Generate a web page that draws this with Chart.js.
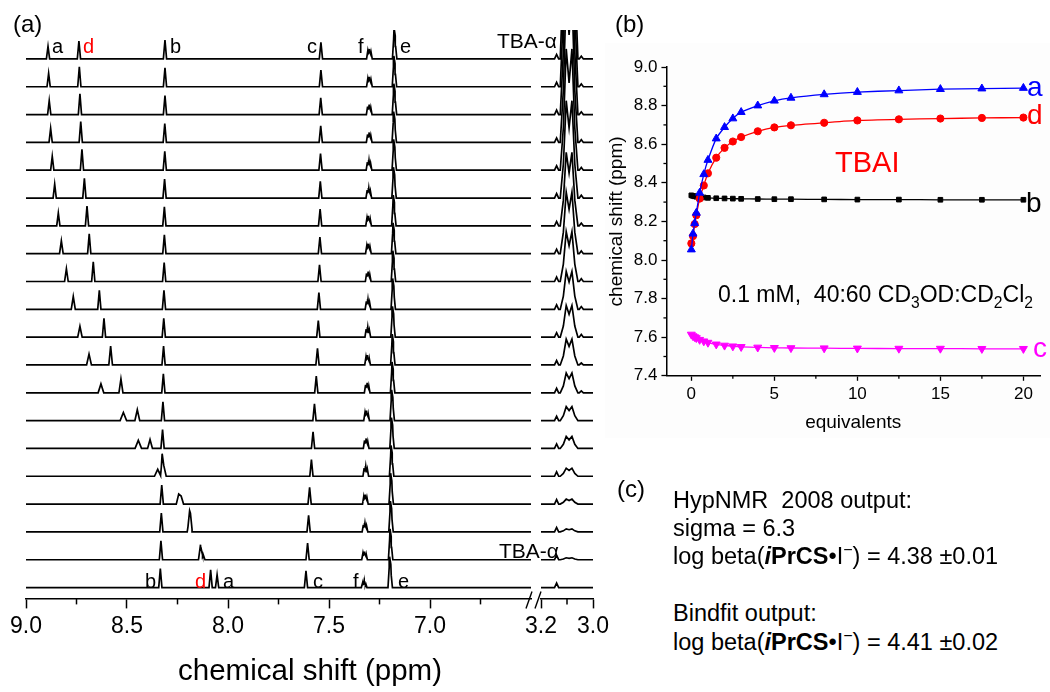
<!DOCTYPE html>
<html>
<head>
<meta charset="utf-8">
<script src="https://cdn.jsdelivr.net/npm/chart.js@4.4.0/dist/chart.umd.min.js"></script>
<style>
  body { margin: 0; background: #fff; font-family: "Liberation Sans", Arial, sans-serif; }
  #wrap { position: relative; width: 1050px; height: 692px; overflow: hidden; }
  #wrap canvas { position: absolute; }
  .t { position: absolute; white-space: nowrap; line-height: 1; color: #000; }
  .t sub, .t sup { font-size: 0.68em; line-height: 0; }
  #bgB { position: absolute; left: 605px; top: 43px; width: 445px; height: 395px; background: #fdfdfd; }
</style>
</head>
<body>
<div id="wrap">
  <div id="bgB"></div>
  <canvas id="specMain" width="548" height="660" style="left:0;top:0"></canvas>
  <canvas id="specTBA" width="100" height="660" style="left:520px;top:0"></canvas>
  <canvas id="titr" width="450" height="398" style="left:600px;top:40px"></canvas>
</div>
<script>
// equivalents of TBAI added, one per stacked spectrum (bottom = 0 eq, top = 20 eq)
var equiv  = [0, 0.1, 0.2, 0.3, 0.5, 0.75, 1, 1.5, 2, 2.5, 3, 4, 5, 6, 8, 10, 12.5, 15, 17.5, 20];

// chemical shifts (ppm) of the tracked protons
var shiftA = [8.054, 8.136, 8.190, 8.244, 8.348, 8.444, 8.518, 8.629, 8.688, 8.733, 8.766, 8.800, 8.825, 8.840, 8.858, 8.870, 8.878, 8.885, 8.888, 8.891];
var shiftD = [8.086, 8.124, 8.186, 8.232, 8.318, 8.386, 8.449, 8.530, 8.581, 8.614, 8.637, 8.667, 8.687, 8.698, 8.711, 8.723, 8.729, 8.733, 8.736, 8.738];
var shiftB = [8.335, 8.332, 8.330, 8.328, 8.326, 8.324, 8.322, 8.320, 8.319, 8.318, 8.317, 8.316, 8.315, 8.315, 8.314, 8.313, 8.313, 8.312, 8.312, 8.312];
var shiftC = [7.614, 7.606, 7.601, 7.596, 7.587, 7.579, 7.572, 7.563, 7.557, 7.553, 7.550, 7.547, 7.545, 7.544, 7.543, 7.542, 7.541, 7.541, 7.540, 7.540];
var shiftE = [7.200, 7.198, 7.196, 7.195, 7.193, 7.191, 7.190, 7.188, 7.187, 7.186, 7.185, 7.184, 7.183, 7.182, 7.181, 7.180, 7.180, 7.179, 7.179, 7.178];
var shiftF = [7.326, 7.324, 7.322, 7.320, 7.318, 7.316, 7.314, 7.311, 7.309, 7.308, 7.307, 7.306, 7.305, 7.304, 7.303, 7.302, 7.301, 7.301, 7.300, 7.300];

// peak heights, in units of the spacing between stacked spectra
var heightA = [0.46, 0.54, 0.57, 0.36, 0.25, 0.29, 0.29, 0.32, 0.39, 0.39, 0.46, 0.46, 0.46, 0.46, 0.50, 0.50, 0.50, 0.50, 0.48, 0.45];
var heightD = [0.64, 0.21, 0.29, 0.29, 0.39, 0.32, 0.39, 0.50, 0.68, 0.68, 0.68, 0.71, 0.71, 0.71, 0.71, 0.75, 0.75, 0.75, 0.72, 0.64];
var heightF = [0.20, 0.30, 0.32, 0.34, 0.36, 0.36, 0.36, 0.36, 0.36, 0.36, 0.36, 0.36, 0.36, 0.36, 0.36, 0.36, 0.36, 0.36, 0.36, 0.36];
var heightTBA = [0, 0.07, 0.11, 0.18, 0.29, 0.43, 0.5, 0.71, 0.93, 1.14, 1.36, 1.79, 2.21, 2.64, 3.5, 4.36, 5.36, 6.43, 7.5, 8.57];
var heightSide = [0, 0, 0, 0, 0, 0, 0, 0.07, 0.07, 0.1, 0.1, 0.1, 0.1, 0.1, 0.1, 0.1, 0.1, 0.1, 0.1, 0.1];
var heightB = 0.68, heightC = 0.6, heightE = 0.96, heightBump = 0.16;

// half widths at the base (ppm); a and d broaden in the exchange region
var widthA = [0.008, 0.010, 0.012, 0.012, 0.016, 0.016, 0.016, 0.014, 0.012, 0.011, 0.010, 0.009, 0.009, 0.008, 0.008, 0.008, 0.008, 0.008, 0.008, 0.008];
var widthD = [0.008, 0.010, 0.012, 0.012, 0.012, 0.012, 0.012, 0.010, 0.009, 0.008, 0.008, 0.008, 0.008, 0.008, 0.008, 0.008, 0.008, 0.008, 0.008, 0.008];

// multiplet patterns: [offset from centre (ppm), relative height]
var patternF = [[-0.008, 0.7], [0, 1], [0.008, 0.8]];
var patternE = [[-0.006, 0.62], [0, 1]];
var patternTBA = [[-0.034, 0], [-0.022, 0.35], [-0.011, 1], [0, 0.72], [0.011, 1], [0.022, 0.35], [0.034, 0]];
var centreTBA = 3.092, bumpPpm = 3.14, sidePpm = 3.045;

// axis ticks
var ticksMain = [7.0, 7.5, 8.0, 8.5, 9.0];
var minorMain = [6.75, 7.25, 7.75, 8.25, 8.75];
var ticksTBA = [3.0, 3.2];
var minorTBA = [3.1];
var ticksEq = [0, 5, 10, 15, 20];
var minorEq = [2.5, 7.5, 12.5, 17.5];
var ticksPpm = [7.4, 7.6, 7.8, 8.0, 8.2, 8.4, 8.6, 8.8, 9.0];
var minorPpm = [7.5, 7.7, 7.9, 8.1, 8.3, 8.5, 8.7, 8.9];

Chart.defaults.font.family = '"Liberation Sans", Arial, sans-serif';
Chart.defaults.color = '#000';

// ---- spectrum traces built from the peak lists ----
function peak(p, h, w) { return [[p - w, 0], [p, h], [p + w, 0]]; }
function multiplet(centre, h, w, pattern) {
    return pattern.map(function (m) { return peak(centre + m[0], h * m[1], w); });
}
function shapeValue(shape, x) {
    if (x <= shape[0][0] || x >= shape[shape.length - 1][0]) return 0;
    for (var k = 1; k < shape.length; k++) {
        if (x <= shape[k][0]) {
            var x0 = shape[k - 1][0], y0 = shape[k - 1][1], x1 = shape[k][0], y1 = shape[k][1];
            return y0 + (y1 - y0) * (x - x0) / (x1 - x0);
        }
    }
    return 0;
}
function trace(shapes, lo, hi, base) {
    var xs = [lo, hi];
    shapes.forEach(function (s) {
        s.forEach(function (v) { if (v[0] > lo && v[0] < hi) xs.push(v[0]); });
    });
    xs = Array.from(new Set(xs)).sort(function (p, q) { return p - q; });
    return xs.map(function (x) {
        var y = base;
        shapes.forEach(function (s) { y += shapeValue(s, x); });
        return { x: x, y: y };
    });
}
function mainShapes(i) {
    return [
        peak(shiftA[i], heightA[i], widthA[i]),
        peak(shiftD[i], heightD[i], widthD[i]),
        peak(shiftB[i], heightB, 0.008),
        peak(shiftC[i], heightC, 0.008)
    ].concat(multiplet(shiftF[i], heightF[i], 0.006, patternF))
     .concat(multiplet(shiftE[i], heightE, 0.008, patternE));
}
function tbaShapes(i) {
    var m = patternTBA.map(function (v) { return [centreTBA + v[0], heightTBA[i] * v[1]]; });
    var shapes = [peak(bumpPpm, heightBump, 0.008)];
    if (heightTBA[i] > 0) shapes.push(m);
    if (heightSide[i] > 0) shapes.push(peak(sidePpm, heightSide[i], 0.008));
    return shapes;
}

var minorTicks = {
    id: 'minorTicks',
    afterDraw: function (chart, args, opts) {
        var ctx = chart.ctx, area = chart.chartArea;
        ctx.save();
        ctx.strokeStyle = '#000';
        ctx.lineWidth = opts.width;
        (opts.x || []).forEach(function (v) {
            var px = chart.scales.x.getPixelForValue(v);
            ctx.beginPath(); ctx.moveTo(px, area.bottom); ctx.lineTo(px, area.bottom + opts.len); ctx.stroke();
        });
        (opts.y || []).forEach(function (v) {
            var py = chart.scales.y.getPixelForValue(v);
            ctx.beginPath(); ctx.moveTo(area.left, py); ctx.lineTo(area.left - opts.len, py); ctx.stroke();
        });
        ctx.restore();
    }
};

var axisBreak = {
    id: 'axisBreak',
    afterDraw: function (chart) {
        var ctx = chart.ctx, a = chart.chartArea;
        ctx.save();
        ctx.strokeStyle = '#000';
        ctx.lineWidth = 1.4;
        [-2, 7].forEach(function (dx) {
            ctx.beginPath();
            ctx.moveTo(a.right + dx - 3, a.bottom + 10);
            ctx.lineTo(a.right + dx + 3, a.bottom - 7);
            ctx.stroke();
        });
        ctx.restore();
    }
};

function specOptions(xmin, xmax, tickVals, minor, pad) {
    return {
        responsive: false,
        animation: false,
        devicePixelRatio: 1,
        layout: { padding: pad },
        plugins: { legend: { display: false }, tooltip: { enabled: false },
                   minorTicks: { x: minor, len: 6, width: 1.5 } },
        elements: { point: { radius: 0 }, line: { borderWidth: 1.7, tension: 0, borderColor: '#000' } },
        scales: {
            x: {
                type: 'linear', reverse: true, min: xmin, max: xmax,
                afterBuildTicks: function (s) { s.ticks = tickVals.map(function (v) { return { value: v }; }); },
                ticks: { font: { size: 23 }, color: '#000', padding: 4, maxRotation: 0,
                         callback: function (v) { return v.toFixed(1); } },
                grid: { drawOnChartArea: false, tickLength: 10, tickWidth: 1.5, tickColor: '#000' },
                border: { display: true, color: '#000', width: 1.5 }
            },
            y: { display: false, min: -0.39, max: 20.04 }
        }
    };
}

new Chart(document.getElementById('specMain'), {
    type: 'line',
    data: {
        datasets: equiv.map(function (eq, i) {
            return { data: trace(mainShapes(i), 6.5, 9.0, i), borderColor: '#000', fill: false };
        })
    },
    options: specOptions(6.5, 9.0, ticksMain, minorMain, { left: 26, right: 17, top: 30, bottom: 16 }),
    plugins: [minorTicks, axisBreak]
});

new Chart(document.getElementById('specTBA'), {
    type: 'line',
    data: {
        datasets: equiv.map(function (eq, i) {
            return { data: trace(tbaShapes(i), 3.0, 3.2, i), borderColor: '#000', fill: false };
        })
    },
    options: specOptions(3.0, 3.2, ticksTBA, minorTBA, { left: 21, right: 27, top: 30, bottom: 16 }),
    plugins: [minorTicks]
});

// ---- panel (b): titration curves ----
function pts(ys) { return equiv.map(function (x, i) { return { x: x, y: ys[i] }; }); }
function series(ys, colour, style, radius, rot) {
    return {
        data: pts(ys), borderColor: colour, backgroundColor: colour, borderWidth: 1.3,
        pointStyle: style, pointRadius: radius, pointRotation: rot || 0,
        pointBorderWidth: 1, tension: 0.2, fill: false
    };
}

new Chart(document.getElementById('titr'), {
    type: 'line',
    data: {
        datasets: [
            series(shiftA, '#0000ff', 'triangle', 4.6),
            series(shiftD, '#ff0000', 'circle', 3.6),
            series(shiftB, '#000000', 'rect', 3.3),
            series(shiftC, '#ff00ff', 'triangle', 4.6, 180)
        ]
    },
    options: {
        responsive: false,
        animation: false,
        devicePixelRatio: 1,
        layout: { padding: { left: 3, right: 10, top: 27, bottom: 4 } },
        plugins: { legend: { display: false }, tooltip: { enabled: false },
                   minorTicks: { x: minorEq, y: minorPpm, len: 3, width: 1.3 } },
        scales: {
            x: {
                type: 'linear', min: -1.5, max: 21,
                afterBuildTicks: function (s) { s.ticks = ticksEq.map(function (v) { return { value: v }; }); },
                ticks: { font: { size: 17 }, color: '#000', padding: 3, maxRotation: 0 },
                grid: { drawOnChartArea: false, tickLength: 5, tickWidth: 1.3, tickColor: '#000' },
                border: { display: true, color: '#000', width: 1.5 },
                title: { display: true, text: 'equivalents', font: { size: 19 }, color: '#000', padding: { top: 4, bottom: 0 } }
            },
            y: {
                type: 'linear', min: 7.4, max: 9.0,
                afterBuildTicks: function (s) { s.ticks = ticksPpm.map(function (v) { return { value: v }; }); },
                ticks: { font: { size: 17 }, color: '#000', padding: 4,
                         callback: function (v) { return v.toFixed(1); } },
                grid: { drawOnChartArea: false, tickLength: 5, tickWidth: 1.3, tickColor: '#000' },
                border: { display: true, color: '#000', width: 1.5 },
                title: { display: true, text: 'chemical shift (ppm)', font: { size: 19 }, color: '#000', padding: { top: 2, bottom: 2 } }
            }
        }
    },
    plugins: [minorTicks]
});

// ---- text labels ----
var wrap = document.getElementById('wrap');
function place(html, x, baseline, size, colour, centred) {
    var el = document.createElement('div');
    el.className = 't';
    el.style.left = x + 'px';
    el.style.top = (baseline - 0.85 * size) + 'px';
    el.style.fontSize = size + 'px';
    if (colour) el.style.color = colour;
    if (centred) el.style.transform = 'translateX(-50%)';
    el.innerHTML = html;
    wrap.appendChild(el);
}

place('(a)', 13, 32, 24);
place('(b)', 615, 32, 24);
place('(c)', 617, 497, 24);

// peak labels on the top and bottom spectra
place('a', 52, 53, 20); place('d', 83, 53, 20, '#ff0000'); place('b', 170, 53, 20);
place('c', 307, 53, 20); place('f', 358, 53, 20); place('e', 400, 53, 20);
place('TBA-&alpha;', 497, 48, 21);
place('b', 145, 588, 20); place('d', 195, 588, 20, '#ff0000'); place('a', 223, 588, 20);
place('c', 313, 588, 20); place('f', 353, 588, 20); place('e', 398, 588, 20);
place('TBA-&alpha;', 499, 558, 21);
place('chemical shift (ppm)', 310, 680, 29.5, null, true);

// panel (b) annotations
place('a', 1027, 97, 28, '#0000ff');
place('d', 1027, 125, 28, '#ff0000');
place('b', 1026, 213, 28);
place('c', 1033, 358, 28, '#ff00ff');
place('TBAI', 835, 173, 29, '#ff0000');
place('0.1 mM,&nbsp; 40:60 CD<sub>3</sub>OD:CD<sub>2</sub>Cl<sub>2</sub>', 718, 303, 23);

// panel (c) fit results
place('HypNMR&nbsp; 2008 output:', 673, 509, 23.5);
place('sigma = 6.3', 673, 537, 23.5);
place('log beta(<b><i>i</i>PrCS</b>&bull;I<sup>&minus;</sup>) = 4.38 &plusmn;0.01', 673, 565, 23.5);
place('Bindfit output:', 673, 622, 23.5);
place('log beta(<b><i>i</i>PrCS</b>&bull;I<sup>&minus;</sup>) = 4.41 &plusmn;0.02', 673, 651, 23.5);
</script>
</body>
</html>
